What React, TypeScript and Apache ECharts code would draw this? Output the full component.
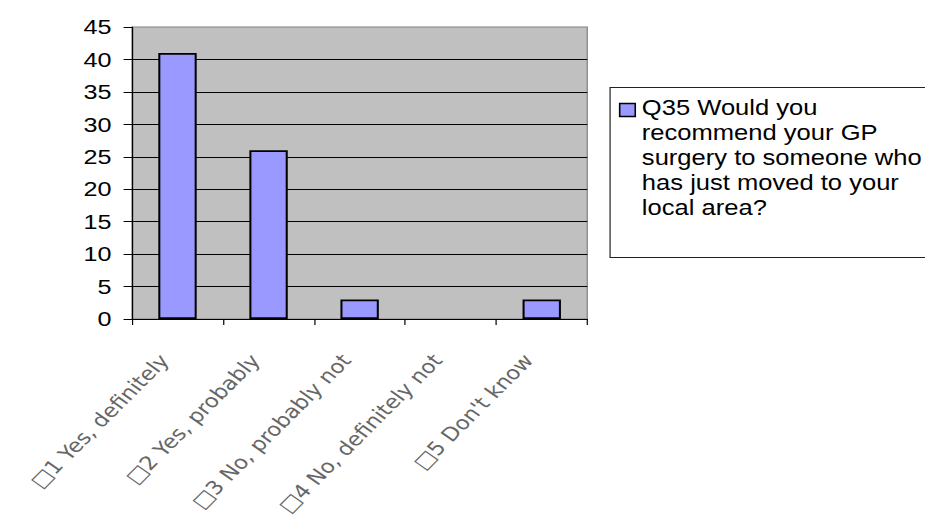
import React, { useEffect, useRef } from 'react';
import * as echarts from 'echarts';

const categories = [
  '\u25A11 Yes, definitely',
  '\u25A12 Yes, probably',
  '\u25A13 No, probably not',
  '\u25A14 No, definitely not',
  "\u25A15 Don't know",
];
const values = [41, 26, 3, 0, 3];
const yMin = 0;
const yMax = 45;
const yInterval = 5;
const seriesName =
  'Q35 Would you recommend your GP surgery to someone who has just moved to your local area?';
const legendLines = [
  'Q35 Would you',
  'recommend your GP',
  'surgery to someone who',
  'has just moved to your',
  'local area?',
];

const CHART_W = 771;
const CHART_H = 527;
const SX = 925 / CHART_W;
const FONT = '"Liberation Sans", Arial, sans-serif';

export default function App() {
  const ref = useRef<HTMLDivElement>(null);
  useEffect(() => {
    document.body.style.margin = '0';
    document.body.style.overflow = 'hidden';
    const chart = echarts.init(ref.current!, null, { renderer: 'svg' });
    chart.setOption({
      animation: false,
      backgroundColor: '#ffffff',
      grid: {
        left: 110,
        top: 27,
        width: 379.5,
        height: 292,
        show: true,
        backgroundColor: '#C0C0C0',
        borderColor: '#808080',
        borderWidth: 1,
        containLabel: false,
      },
      xAxis: {
        type: 'category',
        data: categories,
        axisLine: { show: true, lineStyle: { color: '#000', width: 1 } },
        axisTick: { show: true, length: 6, interval: 0, lineStyle: { color: '#000' } },
        axisLabel: {
          interval: 0,
          rotate: 50,
          margin: 25,
          padding: [0, 17, 0, 0],
          fontSize: 19,
          fontFamily: '"DejaVu Sans", sans-serif',
          color: '#666',
        },
        splitLine: { show: false },
      },
      yAxis: {
        type: 'value',
        min: yMin,
        max: yMax,
        interval: yInterval,
        axisLine: { show: true, lineStyle: { color: '#000', width: 1 } },
        axisTick: { show: true, length: 7, lineStyle: { color: '#000' } },
        axisLabel: { margin: 17, fontSize: 21, fontFamily: FONT, color: '#000' },
        splitLine: { show: true, showMaxLine: false, lineStyle: { color: '#000', width: 1 } },
      },
      series: [
        {
          name: seriesName,
          type: 'bar',
          data: values.map((v) =>
            v === 0 ? { value: v, itemStyle: { borderWidth: 0 } } : v
          ),
          barWidth: 32,
          itemStyle: { color: '#9999FF', borderColor: '#000', borderWidth: 1.7 },
        },
      ],
      graphic: [
        {
          type: 'rect',
          shape: { x: 508.5, y: 87.5, width: 300, height: 170 },
          style: { fill: '#ffffff', stroke: '#222', lineWidth: 1 },
        },
        {
          type: 'rect',
          shape: { x: 516.5, y: 103.5, width: 13, height: 13 },
          style: { fill: '#9999FF', stroke: '#000', lineWidth: 1.3 },
        },
        {
          type: 'text',
          x: 535,
          y: 95,
          style: {
            text: legendLines.join('\n'),
            fontSize: 21.3,
            fontFamily: FONT,
            lineHeight: 25,
            fill: '#000',
            verticalAlign: 'top',
          },
        },
      ],
    });
    return () => chart.dispose();
  }, []);
  return (
    <div
      ref={ref}
      style={{
        width: CHART_W,
        height: CHART_H,
        transform: `scaleX(${SX})`,
        transformOrigin: '0 0',
      }}
    />
  );
}
